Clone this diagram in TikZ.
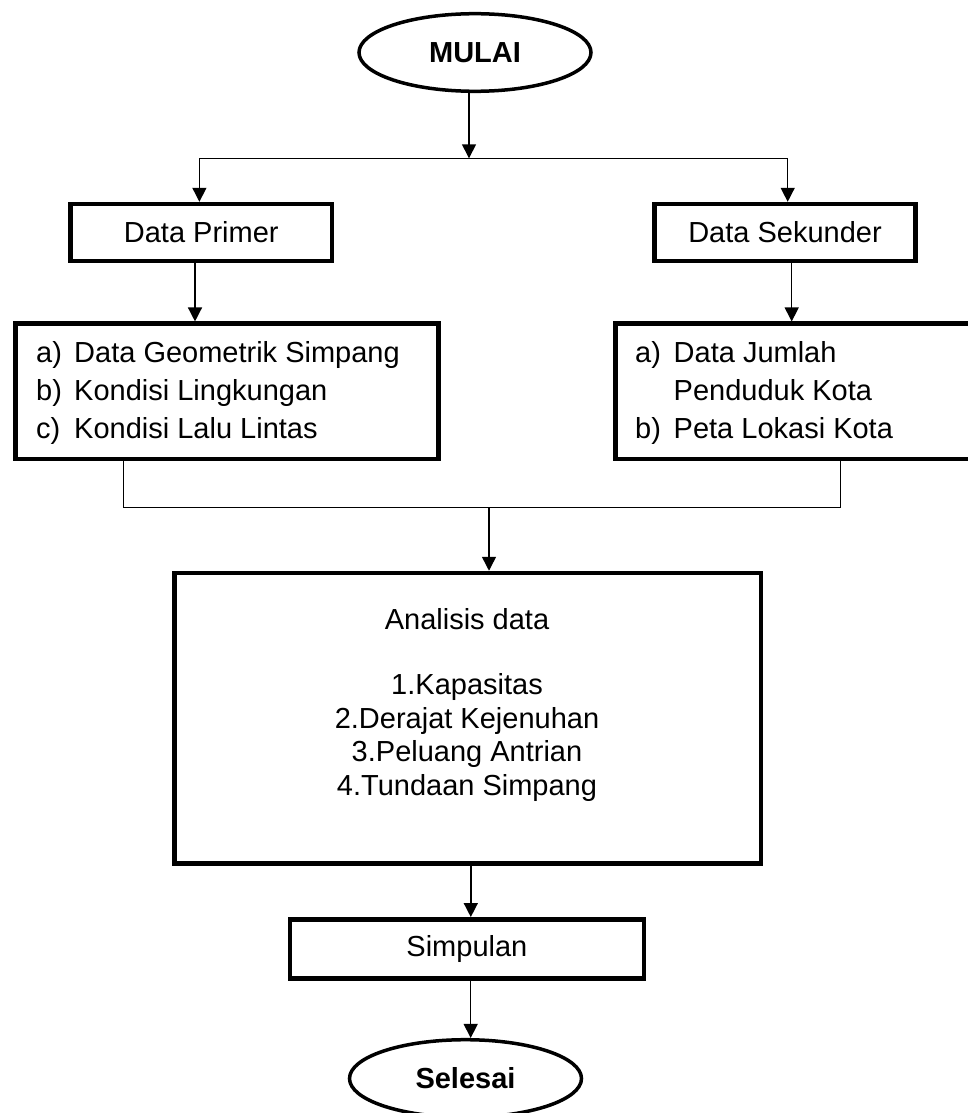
\documentclass[tikz,border=0pt]{standalone}
\usepackage{fontspec}
\setmainfont{Liberation Sans}
\usetikzlibrary{shapes.geometric,arrows.meta}
\begin{document}
\begin{tikzpicture}[x=1pt,y=-1pt,
  every node/.style={font=\fontsize{29}{34}\selectfont},
  terminal/.style={ellipse,draw,line width=3.5pt,inner sep=0pt,minimum width=232pt,minimum height=77.6pt,font=\fontsize{29}{34}\selectfont\bfseries},
  procbox/.style={rectangle,draw,line width=4.5pt,inner sep=0pt},
  txt/.style={inner sep=0pt,anchor=base west},
  ctxt/.style={inner sep=0pt,anchor=base},
  conn/.style={line width=1.4pt},
  arr/.style={conn,-{Triangle[length=14pt,width=14pt]}}]
\useasboundingbox (0,0) rectangle (968,1113);

% nodes
\node[terminal] (mulai) at (475,52.5) {MULAI};
\node[procbox,minimum width=261.5pt,minimum height=56.7pt] (primer) at (201.25,232.4) {Data Primer};
\node[procbox,minimum width=261pt,minimum height=56.7pt] (sekunder) at (785,232.4) {Data Sekunder};
\node[procbox,minimum width=423pt,minimum height=135.3pt] (listA) at (227,391.35) {};
\node[procbox,minimum width=360pt,minimum height=135.3pt] (listB) at (795.5,391.35) {};
\node[procbox,minimum width=586.5pt,minimum height=290.7pt] (ana) at (467.5,718.35) {};
\node[procbox,minimum width=354.3pt,minimum height=59.4pt] (simp) at (466.9,949) {Simpulan};
\node[terminal] (selesai) at (465.5,1078.5) {Selesai};

% list texts
\node[txt] (la1) at (36,362.7) {\makebox[38pt][l]{a)}Data Geometrik Simpang};
\node[txt] (la2) at (36,400.5) {\makebox[38pt][l]{b)}Kondisi Lingkungan};
\node[txt] (la3) at (36,438.3) {\makebox[38pt][l]{c)}Kondisi Lalu Lintas};
\node[txt] (lb1) at (635,362.7) {\makebox[38.5pt][l]{a)}Data Jumlah};
\node[txt] (lb2) at (635,400.5) {\makebox[38.5pt][l]{}Penduduk Kota};
\node[txt] (lb3) at (635,438.3) {\makebox[38.5pt][l]{b)}Peta Lokasi Kota};

% analysis texts
\node[ctxt] (an1) at (467,629.5) {Analisis data};
\node[ctxt] (an2) at (467,694) {1.Kapasitas};
\node[ctxt] (an3) at (467,728) {2.Derajat Kejenuhan};
\node[ctxt] (an4) at (467,761.7) {3.Peluang Antrian};
\node[ctxt] (an5) at (467,795.5) {4.Tundaan Simpang};

% connectors
\coordinate (j1) at (469,158.3);
\coordinate (jl) at (199.4,158.3);
\coordinate (jr) at (787.7,158.3);
\draw[arr] (mulai.south -| j1) -- (j1);
\draw[conn] (jl) -- (jr);
\draw[arr] (jl) -- (jl |- primer.north);
\draw[arr] (jr) -- (jr |- sekunder.north);
\draw[arr] ([xshift=-6.25pt]primer.south) -- ([xshift=-6.25pt]primer.south |- listA.north);
\draw[arr] ([xshift=6.7pt]sekunder.south) -- ([xshift=6.7pt]sekunder.south |- listB.north);

\coordinate (ja) at (123.5,507.7);
\coordinate (jb) at (840.7,507.7);
\coordinate (j2) at (489,507.7);
\draw[conn] (listA.south -| ja) -- (ja) -- (jb) -- (listB.south -| jb);
\draw[arr] (j2) -- (j2 |- ana.north);
\draw[arr] ([xshift=3.3pt]ana.south) -- ([xshift=3.3pt]ana.south |- simp.north);
\draw[arr] ([xshift=3.8pt]simp.south) -- ([xshift=3.8pt]simp.south |- selesai.north);
\end{tikzpicture}
\end{document}
